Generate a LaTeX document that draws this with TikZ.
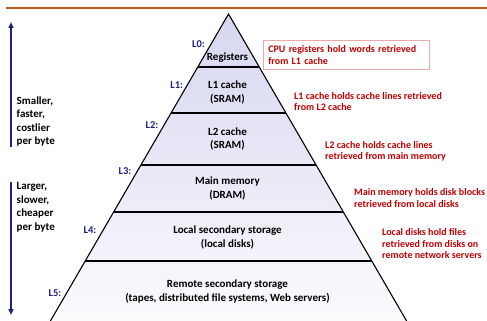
\documentclass[tikz,border=0pt]{standalone}
\usepackage{fontspec}
\setmainfont{Carlito}
\usetikzlibrary{arrows.meta}
\definecolor{rulecol}{RGB}{197,90,17}
\definecolor{navy}{RGB}{32,32,128}
\definecolor{notered}{RGB}{192,0,0}
\definecolor{boxpink}{RGB}{232,170,170}
\definecolor{pyr}{RGB}{214,214,240}
\begin{document}
\begin{tikzpicture}[x=1pt,y=-1pt,
  layertext/.style={font=\fontsize{11}{13.6}\selectfont\bfseries, align=center, inner sep=0pt},
  levellabel/.style={font=\fontsize{10.5}{12}\selectfont\bfseries, text=navy, inner sep=0pt},
  note/.style={font=\fontsize{10}{11.6}\selectfont\bfseries, text=notered, align=left, inner sep=0pt, anchor=west},
  sidetext/.style={font=\fontsize{11}{13.6}\selectfont\bfseries, align=left, inner sep=0pt, anchor=west},
  tierline/.style={line width=1.4pt},
  sidearrow/.style={draw=navy, line width=1.5pt, -{Triangle[length=6pt,width=5pt]}}]
\useasboundingbox (0,0) rectangle (487,321);

% top rule
\draw[rulecol, line width=2.5pt] (6,8) -- (487,8);

% pyramid body
\coordinate (apex) at (228.5,14);
\coordinate (bl) at (50.4,321);
\coordinate (br) at (406.6,321);
\begin{scope}
  \clip (0,0) rectangle (487,321);
  \shade[top color=pyr, bottom color=pyr!10] (apex) -- (bl) -- (br) -- cycle;
  \draw[line width=1.1pt] (bl) -- (apex) -- (br);
\end{scope}

% tier boundaries
\draw[tierline] (197.8,67) -- (259.2,67);
\draw[tierline] (171.1,113) -- (285.9,113);
\draw[tierline] (140.9,165) -- (316.1,165);
\draw[tierline] (113.7,212) -- (343.3,212);
\draw[tierline] (85.2,261) -- (371.8,261);

% tier names
\node[layertext] (reg) at (227.5,57.5) {Registers};
\node[layertext] (l1) at (227.5,92.2) {L1 cache\\(SRAM)};
\node[layertext] (l2) at (227.5,139) {L2 cache\\(SRAM)};
\node[layertext] (mm) at (227.5,188.7) {Main memory\\(DRAM)};
\node[layertext] (lss) at (227.5,237.2) {Local secondary storage\\(local disks)};
\node[layertext] (rss) at (227.5,291.4) {Remote secondary storage\\(tapes, distributed file systems, Web servers)};

% level tags
\node[levellabel] (t0) at (198.5,44.3) {L0:};
\node[levellabel] (t1) at (176.7,85) {L1:};
\node[levellabel] (t2) at (152,125) {L2:};
\node[levellabel] (t3) at (125,171) {L3:};
\node[levellabel] (t4) at (90,230) {L4:};
\node[levellabel] (t5) at (55,292.7) {L5:};

% notes on the right
\node[note, draw=boxpink, line width=0.6pt, anchor=north west, inner xsep=5pt,
      text width=156pt, minimum height=29pt] (n0) at (263,40)
  {CPU registers hold words retrieved\\from L1 cache};
\node[note] (n1) at (294,101.5) {L1 cache holds cache lines retrieved\\from L2 cache};
\node[note] (n2) at (325,151.2) {L2 cache holds cache lines\\retrieved from main memory};
\node[note] (n3) at (354,198.2) {Main memory holds disk blocks\\retrieved from local disks};
\node[note] (n4) at (382,243.8) {Local disks hold files\\retrieved from disks on\\remote network servers};

% trend arrows on the left
\coordinate (uptop) at (11,22);
\coordinate (upbot) at (11,147);
\coordinate (dntop) at (11,182);
\coordinate (dnbot) at (11,315);
\draw[sidearrow] (upbot) -- (uptop);
\draw[sidearrow] (dntop) -- (dnbot);
\node[sidetext] (fast) at (16.5,121.5) {Smaller,\\faster,\\costlier\\per byte};
\node[sidetext] (slow) at (16.5,207.2) {Larger,\\slower,\\cheaper\\per byte};
\end{tikzpicture}
\end{document}
